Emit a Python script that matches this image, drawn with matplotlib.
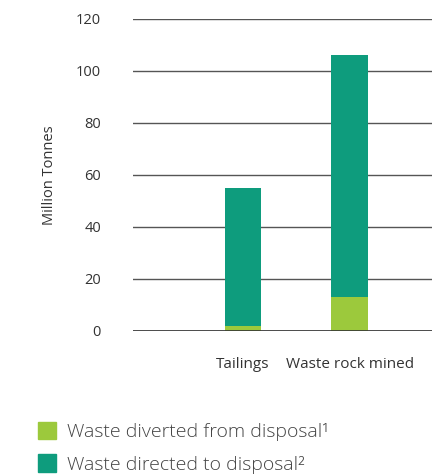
import matplotlib
matplotlib.use("Agg")
import matplotlib.pyplot as plt
from matplotlib.patches import Patch

plt.rcParams['font.family'] = ['Open Sans', 'DejaVu Sans']

categories = ["", "Tailings", "Waste rock mined"]
diverted = [0, 2, 13]
directed = [0, 53, 93]
series_labels = ["Waste diverted from disposal\u00b9", "Waste directed to disposal\u00b2"]
y_ticks = [0, 20, 40, 60, 80, 100, 120]

c_div = "#9CC93C"
c_dir = "#0E9C7D"
text_c = "#333333"

fig = plt.figure(figsize=(4.35, 4.75), dpi=100)
ax = fig.add_axes([0.3057, 0.3032, 0.6873, 0.6568])

x = list(range(len(categories)))
ax.bar(x, diverted, width=0.345, color=c_div, zorder=3)
ax.bar(x, directed, bottom=diverted, width=0.345, color=c_dir, zorder=3)

ax.set_xlim(-0.03, 2.77)
ax.set_ylim(0, 120)
ax.set_yticks(y_ticks)
ax.set_yticklabels([str(v) for v in y_ticks], fontsize=10.5, color=text_c)
ax.set_xticks(x[1:])
ax.set_xticklabels(categories[1:], fontsize=11, color=text_c)
ax.tick_params(axis='y', length=0, pad=23)
ax.tick_params(axis='x', length=0, pad=19)
ax.grid(axis='y', color="#555555", linewidth=1.0, zorder=0)
ax.axhline(0, color="#333333", linewidth=1.2, zorder=4)
for s in ax.spines.values():
    s.set_visible(False)

ax.set_ylabel("Million Tonnes", fontsize=10.5, color=text_c)
ax.yaxis.set_label_coords(-0.255, 0.5)

handles = [Patch(color=c_div), Patch(color=c_dir)]
fig.legend(handles, series_labels, loc='upper left', bbox_to_anchor=(0.087, 0.112),
           frameon=False, handlelength=0.95, handleheight=1.0,
           handletextpad=0.55, labelspacing=0.68, borderpad=0, borderaxespad=0,
           labelcolor="#444444", prop={'weight': 300, 'size': 14})

fig.savefig("out.png", dpi=100)
